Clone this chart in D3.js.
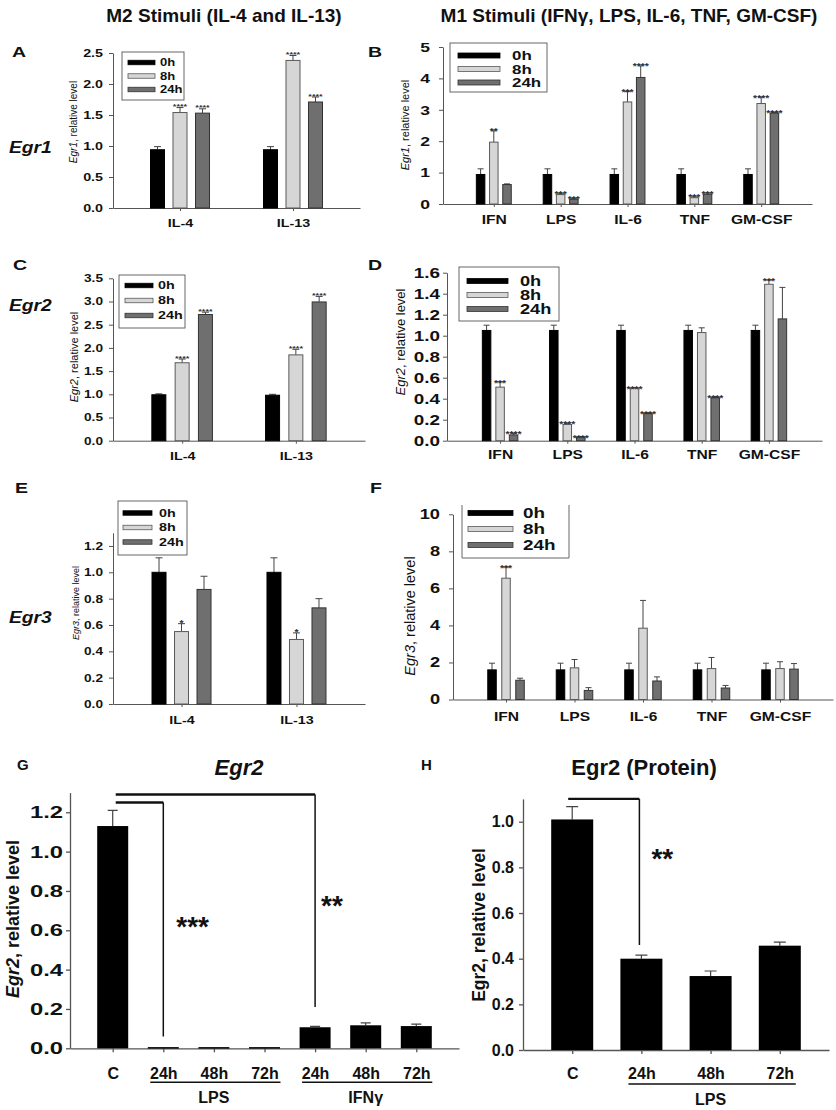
<!DOCTYPE html>
<html>
<head>
<meta charset="utf-8">
<script src="https://cdn.jsdelivr.net/npm/d3@7"></script>
<style>
body { margin: 0; background: #fff; }
svg { display: block; font-family: "Liberation Sans", Arial, Helvetica, sans-serif; }
</style>
</head>
<body>
<script>
// ---- data ----
var timePoints = ["0h", "8h", "24h"];
var m2Stimuli = ["IL-4", "IL-13"];
var m1Stimuli = ["IFN", "LPS", "IL-6", "TNF", "GM-CSF"];

// A: Egr1, M2
var egr1M2Values = [[0.94, 1.54, 1.53], [0.94, 2.38, 1.71]];
var egr1M2Errors = [[0.05, 0.08, 0.07], [0.05, 0.08, 0.08]];
var egr1M2Stars = [["", "****", "****"], ["", "****", "****"]];

// B: Egr1, M1
var egr1M1Values = [[0.94, 1.97, 0.62], [0.94, 0.30, 0.15], [0.94, 3.25, 4.03], [0.94, 0.20, 0.31], [0.94, 3.20, 2.90]];
var egr1M1Errors = [[0.18, 0.36, 0.02], [0.18, 0.04, 0.03], [0.18, 0.33, 0.37], [0.18, 0.03, 0.04], [0.18, 0.20, 0.02]];
var egr1M1Stars = [["", "**", ""], ["", "***", "***"], ["", "***", "****"], ["", "***", "***"], ["", "****", "****"]];

// C: Egr2, M2
var egr2M2Values = [[0.99, 1.68, 2.72], [0.98, 1.85, 2.99]];
var egr2M2Errors = [[0.02, 0.08, 0.05], [0.02, 0.12, 0.12]];
var egr2M2Stars = [["", "****", "****"], ["", "****", "****"]];

// D: Egr2, M1
var egr2M1Values = [[1.05, 0.51, 0.055], [1.05, 0.155, 0.035], [1.05, 0.50, 0.26], [1.05, 1.03, 0.41], [1.05, 1.49, 1.16]];
var egr2M1Errors = [[0.05, 0.05, 0.015], [0.05, 0.01, 0.005], [0.05, 0.005, 0.005], [0.05, 0.045, 0.01], [0.05, 0.04, 0.30]];
var egr2M1Stars = [["", "***", "****"], ["", "****", "****"], ["", "****", "****"], ["", "", "****"], ["", "***", ""]];

// E: Egr3, M2
var egr3M2Values = [[1.0, 0.55, 0.87], [1.0, 0.49, 0.73]];
var egr3M2Errors = [[0.11, 0.06, 0.10], [0.11, 0.05, 0.07]];
var egr3M2Stars = [["", "*", ""], ["", "*", ""]];

// F: Egr3, M1
var egr3M1Values = [[1.6, 6.55, 1.04], [1.6, 1.71, 0.49], [1.6, 3.85, 1.0], [1.6, 1.67, 0.62], [1.6, 1.67, 1.64]];
var egr3M1Errors = [[0.36, 0.6, 0.11], [0.36, 0.45, 0.15], [0.36, 1.5, 0.22], [0.36, 0.6, 0.14], [0.36, 0.37, 0.30]];
var egr3M1Stars = [["", "***", ""], ["", "", ""], ["", "", ""], ["", "", ""], ["", "", ""]];

// G: Egr2 mRNA, LPS / IFNγ time course
var gLabels = ["C", "24h", "48h", "72h", "24h", "48h", "72h"];
var gValues = [1.13, 0.006, 0.006, 0.006, 0.107, 0.117, 0.113];
var gErrors = [0.08, 0, 0, 0, 0.004, 0.012, 0.01];
var gGroups = [{ label: "LPS", from: 1, to: 3 }, { label: "IFN\u03b3", from: 4, to: 6 }];
var gBrackets = [
  { from: 0, to: 1, top: 1.25, bottom: 0.06, label: "***", labelAt: 0.571 },
  { from: 0, to: 4, top: 1.29, bottom: 0.21, label: "**", labelAt: 0.678 }
];

// H: Egr2 protein, LPS time course
var hLabels = ["C", "24h", "48h", "72h"];
var hValues = [1.01, 0.40, 0.324, 0.457];
var hErrors = [0.056, 0.016, 0.022, 0.016];
var hGroups = [{ label: "LPS", from: 1, to: 3 }];
var hBrackets = [{ from: 0, to: 1, top: 1.1, bottom: 0.46, label: "**", labelAt: 0.797 }];

// ---- styles ----
var timeFills = ["#000000", "#d6d6d6", "#6f6f6f"];
var timeStrokes = ["#000000", "#5a5a5a", "#333333"];
var axisColor = "#555";

var svg = d3.select("body").append("svg")
  .attr("width", 836)
  .attr("height", 1110);

// stretch glyphs horizontally, the upper panels of the figure are wider than tall
function widen(sel, k) {
  sel.each(function () {
    var len = this.getComputedTextLength();
    if (len > 0 && k !== 1) {
      this.setAttribute("textLength", len * k);
      this.setAttribute("lengthAdjust", "spacingAndGlyphs");
    }
  });
}

function styleAxis(axis, size, width) {
  axis.selectAll("path, line").attr("stroke", axisColor).attr("stroke-width", width || 1);
  axis.selectAll("text")
    .attr("fill", "#111")
    .style("font-size", size + "px")
    .style("font-weight", "bold");
}

function yTitle(parent, cx, cy, size, gene, italicGene, bold) {
  var t = parent.append("text")
    .attr("transform", "translate(" + cx + "," + cy + ") rotate(-90)")
    .attr("text-anchor", "middle")
    .attr("dy", "0.35em")
    .style("font-size", size + "px")
    .style("font-weight", bold ? "bold" : "normal")
    .attr("fill", "#111");
  t.append("tspan").style("font-style", italicGene ? "italic" : "normal").text(gene);
  t.append("tspan").text(", relative level");
}

function legend(parent, L, k) {
  var g = parent.append("g");
  if (L.noTop) {
    g.append("path")
      .attr("d", "M" + L.x + "," + L.y + "V" + (L.y + L.h) + "H" + (L.x + L.w) + "V" + L.y)
      .attr("fill", "#fff").attr("stroke", "#666");
  } else {
    g.append("rect")
      .attr("x", L.x).attr("y", L.y).attr("width", L.w).attr("height", L.h)
      .attr("fill", "#fff").attr("stroke", "#666");
  }
  var row = g.selectAll("g.row").data(timePoints).enter().append("g").attr("class", "row");
  row.append("rect")
    .attr("x", L.swX)
    .attr("y", function (d, i) { return L.first + i * L.gap - L.swH / 2; })
    .attr("width", L.swW)
    .attr("height", L.swH)
    .attr("fill", function (d, i) { return timeFills[i]; })
    .attr("stroke", function (d, i) { return timeStrokes[i]; })
    .attr("stroke-width", 0.8);
  var txt = row.append("text")
    .attr("x", L.txX)
    .attr("y", function (d, i) { return L.first + i * L.gap; })
    .attr("dy", "0.36em")
    .style("font-size", L.font + "px")
    .style("font-weight", "bold")
    .attr("fill", "#111")
    .text(function (d) { return d; });
  widen(txt, k);
}

function groupedPanel(p) {
  var k = 1.3;
  var g = svg.append("g").attr("class", "panel-" + p.id);
  var x = d3.scalePoint().domain(p.cats).range([p.x0, p.x1]).padding(p.pad);
  var y = d3.scaleLinear().domain([0, p.yMax]).range([p.y0, p.yTop]);
  var sub = d3.scalePoint().domain(timePoints).range([-p.off, p.off]);

  var yAxis = g.append("g")
    .attr("transform", "translate(" + p.x0 + ",0)")
    .call(d3.axisLeft(y).tickValues(p.ticks).tickFormat(d3.format(p.fmt))
      .tickSize(4).tickSizeOuter(0).tickPadding(p.tickPad));
  var xAxis = g.append("g")
    .attr("transform", "translate(0," + p.y0 + ")")
    .call(d3.axisBottom(x).tickSize(3).tickSizeOuter(0).tickPadding(p.catPad));
  styleAxis(yAxis, p.tickFont);
  styleAxis(xAxis, p.catFont);
  widen(yAxis.selectAll("text"), k);
  widen(xAxis.selectAll("text"), k);

  var rows = [];
  p.cats.forEach(function (c, ci) {
    timePoints.forEach(function (t, ti) {
      rows.push({ c: c, t: t, ti: ti, v: p.values[ci][ti], e: p.errors[ci][ti], s: p.stars[ci][ti] });
    });
  });
  function cx(d) { return x(d.c) + sub(d.t); }

  g.append("g").selectAll("line").data(rows.filter(function (d) { return d.e > 0; }))
    .enter().append("line")
    .attr("x1", cx).attr("x2", cx)
    .attr("y1", function (d) { return y(d.v); })
    .attr("y2", function (d) { return y(d.v + d.e); })
    .attr("stroke", "#444");
  g.append("g").selectAll("line").data(rows.filter(function (d) { return d.e > 0; }))
    .enter().append("line")
    .attr("x1", function (d) { return cx(d) - p.cap / 2; })
    .attr("x2", function (d) { return cx(d) + p.cap / 2; })
    .attr("y1", function (d) { return y(d.v + d.e); })
    .attr("y2", function (d) { return y(d.v + d.e); })
    .attr("stroke", "#444");

  g.append("g").selectAll("rect").data(rows).enter().append("rect")
    .attr("x", function (d) { return cx(d) - p.bw / 2; })
    .attr("y", function (d) { return y(d.v); })
    .attr("width", p.bw)
    .attr("height", function (d) { return y(0) - y(d.v); })
    .attr("fill", function (d) { return timeFills[d.ti]; })
    .attr("stroke", function (d) { return timeStrokes[d.ti]; })
    .attr("stroke-width", 1);

  var stars = g.append("g").selectAll("text").data(rows.filter(function (d) { return d.s; }))
    .enter().append("text")
    .attr("x", cx)
    .attr("y", function (d) { return y(d.v + d.e) + p.starDy; })
    .attr("text-anchor", "middle")
    .style("font-size", p.starFont + "px")
    .style("font-weight", "bold")
    .attr("fill", "#333")
    .text(function (d) { return d.s; });
  widen(stars, 1.15);

  legend(g, p.legend, k);
  yTitle(g, p.yt[0], p.yt[1], p.yt[2], p.gene, true, false);

  var letter = g.append("text")
    .attr("x", p.letter[0]).attr("y", p.letter[1])
    .style("font-size", "15px").style("font-weight", "bold")
    .attr("fill", "#111").text(p.id);
  widen(letter, k);
}

function simplePanel(p) {
  var g = svg.append("g").attr("class", "panel-" + p.id);
  var idx = d3.range(p.labels.length);
  var x = d3.scalePoint().domain(idx).range([p.x0, p.x1]).padding(p.pad);
  var y = d3.scaleLinear().domain([0, p.yMax]).range([p.y0, p.yTop]);

  var yAxis = g.append("g")
    .attr("transform", "translate(" + p.x0 + ",0)")
    .call(d3.axisLeft(y).tickValues(p.ticks).tickFormat(d3.format(".1f"))
      .tickSize(4).tickSizeOuter(0).tickPadding(p.tickPad));
  var xAxis = g.append("g")
    .attr("transform", "translate(0," + p.y0 + ")")
    .call(d3.axisBottom(x).tickFormat(function (i) { return p.labels[i]; })
      .tickSize(4).tickSizeOuter(0).tickPadding(p.catPad));
  styleAxis(yAxis, p.tickFont, 1.3);
  styleAxis(xAxis, p.catFont, 1.3);
  widen(yAxis.selectAll("text"), p.tickWiden);

  g.append("g").selectAll("path").data(idx.filter(function (i) { return p.errors[i] > 0; }))
    .enter().append("path")
    .attr("d", function (i) {
      var top = y(p.values[i] + p.errors[i]);
      return "M" + x(i) + "," + y(p.values[i]) + "V" + top +
        "M" + (x(i) - p.cap / 2) + "," + top + "H" + (x(i) + p.cap / 2);
    })
    .attr("fill", "none")
    .attr("stroke", "#444")
    .attr("stroke-width", 1.2);

  g.append("g").selectAll("rect").data(idx).enter().append("rect")
    .attr("x", function (i) { return x(i) - p.bw / 2; })
    .attr("y", function (i) { return y(p.values[i]); })
    .attr("width", p.bw)
    .attr("height", function (i) { return Math.max(1.5, y(0) - y(p.values[i])); })
    .attr("fill", "#000");

  // significance brackets
  p.brackets.forEach(function (b, bi) {
    var xs = x(b.from) + p.bracketDx[bi][0];
    var xe = x(b.to) + p.bracketDx[bi][1];
    g.append("line")
      .attr("x1", xs).attr("x2", xe)
      .attr("y1", y(b.top)).attr("y2", y(b.top))
      .attr("stroke", "#111").attr("stroke-width", 2.4);
    g.append("line")
      .attr("x1", xe).attr("x2", xe)
      .attr("y1", y(b.top)).attr("y2", y(b.bottom))
      .attr("stroke", "#111").attr("stroke-width", 1.5);
    g.append("text")
      .attr("x", xe + p.bracketDx[bi][2])
      .attr("y", y(b.labelAt))
      .style("font-size", "28px").style("font-weight", "bold")
      .attr("fill", "#111")
      .text(b.label);
  });

  // group underline and label under the time points
  p.groups.forEach(function (gr) {
    var xs = x(gr.from) - 13, xe = x(gr.to) + 16;
    g.append("line")
      .attr("x1", xs).attr("x2", Math.min(xe, p.lineMax))
      .attr("y1", p.y0 + 34).attr("y2", p.y0 + 34)
      .attr("stroke", "#111").attr("stroke-width", 1.5);
    g.append("text")
      .attr("x", (x(gr.from) + x(gr.to)) / 2)
      .attr("y", p.y0 + 55)
      .attr("text-anchor", "middle")
      .style("font-size", p.catFont + "px").style("font-weight", "bold")
      .attr("fill", "#111")
      .text(gr.label);
  });

  g.append("text")
    .attr("x", p.title[0]).attr("y", p.title[1])
    .attr("text-anchor", "middle")
    .style("font-size", "22px").style("font-weight", "bold")
    .style("font-style", p.titleItalic ? "italic" : "normal")
    .attr("fill", "#111")
    .text(p.titleText);

  yTitle(g, p.yt[0], p.yt[1], p.yt[2], "Egr2", p.titleItalic, true);

  g.append("text")
    .attr("x", p.letter[0]).attr("y", p.letter[1])
    .style("font-size", "15px").style("font-weight", "bold")
    .attr("fill", "#111").text(p.id);
}

// ---- page headings ----
svg.append("text").attr("x", 224).attr("y", 22).attr("text-anchor", "middle")
  .style("font-size", "19px").style("font-weight", "bold").attr("fill", "#111")
  .text("M2 Stimuli (IL-4 and IL-13)");
svg.append("text").attr("x", 629).attr("y", 22).attr("text-anchor", "middle")
  .style("font-size", "19px").style("font-weight", "bold").attr("fill", "#111")
  .text("M1 Stimuli (IFN\u03b3, LPS, IL-6, TNF, GM-CSF)");

[["Egr1", 153], ["Egr2", 311], ["Egr3", 623]].forEach(function (r) {
  var t = svg.append("text").attr("x", 9).attr("y", r[1])
    .style("font-size", "16px").style("font-weight", "bold").style("font-style", "italic")
    .attr("fill", "#111").text(r[0]);
  widen(t, 1.2);
});

groupedPanel({
  id: "A", gene: "Egr1", cats: m2Stimuli,
  values: egr1M2Values, errors: egr1M2Errors, stars: egr1M2Stars,
  x0: 113, x1: 360, pad: 0.593, y0: 208, yTop: 53, yMax: 2.5,
  ticks: [0, 0.5, 1, 1.5, 2, 2.5], fmt: ".1f",
  bw: 14, off: 22.5, cap: 7, tickFont: 11, tickPad: 6, catFont: 11, catPad: 8,
  starFont: 8, starDy: 1.5,
  legend: { x: 122, y: 52, w: 62, h: 48, first: 62.5, gap: 13.5, swX: 128, swW: 27, swH: 4.5, txX: 160, font: 10 },
  yt: [73, 122, 10], letter: [12, 57]
});

groupedPanel({
  id: "B", gene: "Egr1", cats: m1Stimuli,
  values: egr1M1Values, errors: egr1M1Errors, stars: egr1M1Stars,
  x0: 443, x1: 812, pad: 0.76, y0: 204, yTop: 47, yMax: 5,
  ticks: [0, 1, 2, 3, 4, 5], fmt: "d",
  bw: 8.5, off: 13.2, cap: 6, tickFont: 13.5, tickPad: 9, catFont: 12, catPad: 8,
  starFont: 9, starDy: 3.5,
  legend: { x: 450, y: 43, w: 97, h: 49, first: 55.5, gap: 13.5, swX: 458, swW: 42, swH: 5, txX: 512, font: 13 },
  yt: [405, 125, 11], letter: [368, 57]
});

groupedPanel({
  id: "C", gene: "Egr2", cats: m2Stimuli,
  values: egr2M2Values, errors: egr2M2Errors, stars: egr2M2Stars,
  x0: 113, x1: 365, pad: 0.608, y0: 440.7, yTop: 278.3, yMax: 3.5,
  ticks: [0, 0.5, 1, 1.5, 2, 2.5, 3, 3.5], fmt: ".1f",
  bw: 14, off: 23.3, cap: 7, tickFont: 10.5, tickPad: 6, catFont: 11, catPad: 9,
  starFont: 8, starDy: 1.5,
  legend: { x: 119, y: 275, w: 66, h: 53, first: 285.5, gap: 15, swX: 125, swW: 28, swH: 4.5, txX: 158, font: 11 },
  yt: [74, 357, 11], letter: [13, 270]
});

groupedPanel({
  id: "D", gene: "Egr2", cats: m1Stimuli,
  values: egr2M1Values, errors: egr2M1Errors, stars: egr2M1Stars,
  x0: 447, x1: 822, pad: 0.79, y0: 440.7, yTop: 272.7, yMax: 1.6,
  ticks: [0, 0.2, 0.4, 0.6, 0.8, 1.0, 1.2, 1.4, 1.6], fmt: ".1f",
  bw: 8.5, off: 13.5, cap: 6, tickFont: 14.5, tickPad: 3, catFont: 12, catPad: 7,
  starFont: 9, starDy: 4,
  legend: { x: 459, y: 267, w: 100, h: 54, first: 281, gap: 14, swX: 467, swW: 41, swH: 5, txX: 520, font: 14 },
  yt: [400, 342, 13], letter: [368, 270]
});

groupedPanel({
  id: "E", gene: "Egr3", cats: m2Stimuli,
  values: egr3M2Values, errors: egr3M2Errors, stars: egr3M2Stars,
  x0: 113, x1: 365, pad: 0.596, y0: 704, yTop: 532.8, yMax: 1.3,
  ticks: [0, 0.2, 0.4, 0.6, 0.8, 1.0, 1.2], fmt: ".1f",
  bw: 14, off: 22.5, cap: 7, tickFont: 10.5, tickPad: 6, catFont: 11, catPad: 9,
  starFont: 9, starDy: 2,
  legend: { x: 118, y: 501, w: 69, h: 54, first: 513, gap: 14.5, swX: 123, swW: 29, swH: 4.5, txX: 159, font: 11 },
  yt: [76, 603, 9], letter: [15, 493]
});

groupedPanel({
  id: "F", gene: "Egr3", cats: m1Stimuli,
  values: egr3M1Values, errors: egr3M1Errors, stars: egr3M1Stars,
  x0: 453, x1: 833, pad: 0.774, y0: 699.5, yTop: 514.3, yMax: 10,
  ticks: [0, 2, 4, 6, 8, 10], fmt: "d",
  bw: 8.5, off: 14, cap: 6, tickFont: 14, tickPad: 9, catFont: 12, catPad: 10,
  starFont: 9, starDy: 3.5,
  legend: { x: 462, y: 505, w: 107, h: 53, first: 513, gap: 16, swX: 468, swW: 45, swH: 5, txX: 523, font: 14.5, noTop: true },
  yt: [410, 616, 14.5], letter: [370, 493]
});

simplePanel({
  id: "G", labels: gLabels, values: gValues, errors: gErrors,
  groups: gGroups, brackets: gBrackets, bracketDx: [[3, 0, 13], [3, 0, 6]],
  x0: 70, x1: 459, pad: 0.844, y0: 1048.3, yTop: 792.6, yMax: 1.3,
  ticks: [0, 0.2, 0.4, 0.6, 0.8, 1.0, 1.2],
  bw: 31, cap: 10, tickFont: 17, tickWiden: 1.4, tickPad: 3, catFont: 16, catPad: 15,
  lineMax: 433,
  title: [239, 775], titleText: "Egr2", titleItalic: true,
  yt: [13, 919, 18], letter: [17, 770]
});

simplePanel({
  id: "H", labels: hLabels, values: hValues, errors: hErrors,
  groups: hGroups, brackets: hBrackets, bracketDx: [[-4, -2, 12]],
  x0: 523, x1: 829, pad: 0.711, y0: 1050, yTop: 798.9, yMax: 1.1,
  ticks: [0, 0.2, 0.4, 0.6, 0.8, 1.0],
  bw: 42, cap: 12, tickFont: 16, tickWiden: 1, tickPad: 5, catFont: 16, catPad: 13.5,
  lineMax: 836,
  title: [644, 775], titleText: "Egr2 (Protein)", titleItalic: false,
  yt: [479, 925, 17.5], letter: [421, 770]
});
</script>
</body>
</html>
